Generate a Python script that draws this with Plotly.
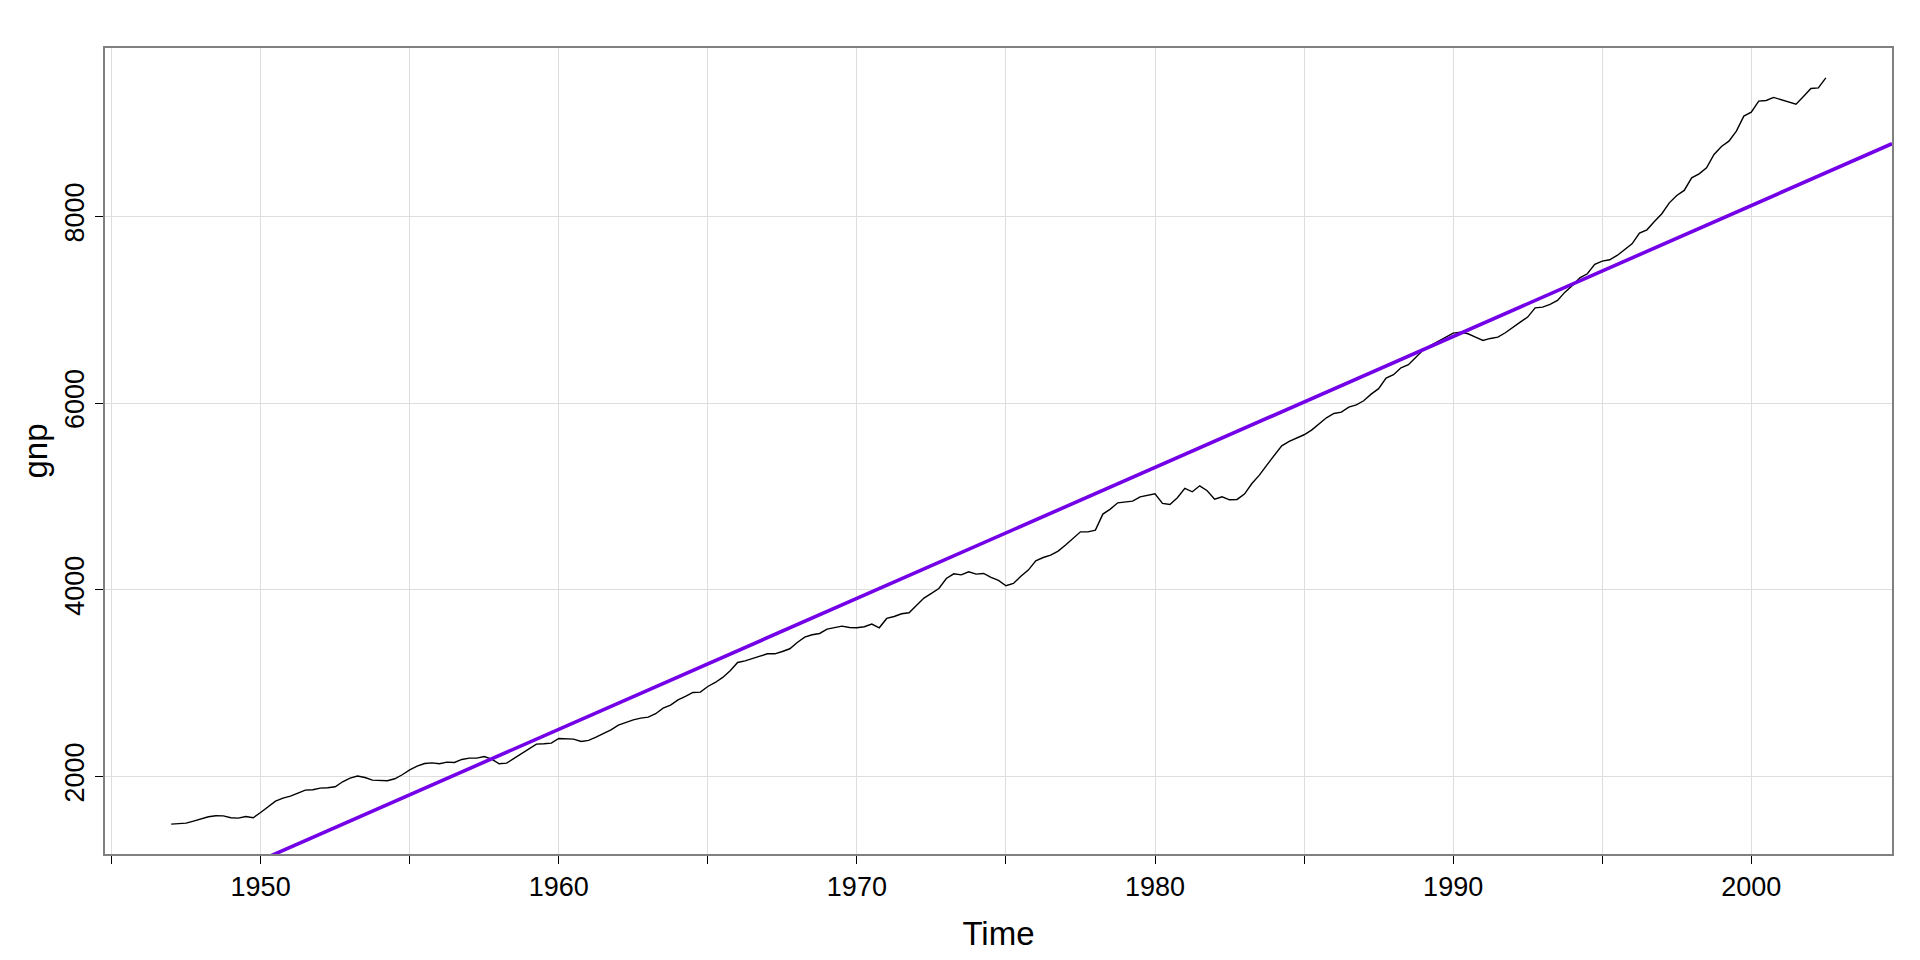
import numpy as np
import plotly.graph_objects as go

# Quarterly GNP, 1947 Q1 .. 2002 Q3
start_year = 1947
gnp = [
    1489, 1496, 1500, 1522,   # 1947
    1543, 1568, 1579, 1578,   # 1948
    1557, 1554, 1571, 1557,   # 1949
    1614, 1671, 1736, 1768,   # 1950
    1789, 1821, 1854, 1857,   # 1951
    1875, 1879, 1889, 1943,   # 1952
    1982, 2004, 1989, 1961,   # 1953
    1954, 1954, 1975, 2018,   # 1954
    2071, 2111, 2139, 2146,   # 1955
    2136, 2154, 2150, 2182,   # 1956
    2196, 2196, 2214, 2186,   # 1957
    2136, 2143, 2193, 2246,   # 1958
    2296, 2346, 2350, 2357,   # 1959
    2407, 2400, 2400, 2375,   # 1960
    2386, 2422, 2457, 2500,   # 1961
    2550, 2582, 2607, 2625,   # 1962
    2636, 2672, 2732, 2764,   # 1963
    2821, 2857, 2900, 2904,   # 1964
    2964, 3007, 3061, 3132,   # 1965
    3221, 3239, 3261, 3289,   # 1966
    3314, 3314, 3339, 3368,   # 1967
    3436, 3493, 3518, 3532,   # 1968
    3579, 3593, 3611, 3596,   # 1969
    3593, 3604, 3632, 3593,   # 1970
    3693, 3714, 3743, 3754,   # 1971
    3829, 3911, 3961, 4014,   # 1972
    4121, 4171, 4160, 4193,   # 1973
    4168, 4175, 4132, 4100,   # 1974
    4043, 4068, 4146, 4211,   # 1975
    4311, 4346, 4371, 4414,   # 1976
    4479, 4550, 4621, 4621,   # 1977
    4639, 4811, 4864, 4932,   # 1978
    4943, 4950, 4996, 5014,   # 1979
    5028, 4925, 4914, 4986,   # 1980
    5086, 5050, 5114, 5061,   # 1981
    4971, 4996, 4964, 4968,   # 1982
    5025, 5139, 5228, 5336,   # 1983
    5443, 5543, 5589, 5621,   # 1984
    5661, 5711, 5782, 5843,   # 1985
    5889, 5904, 5957, 5982,   # 1986
    6025, 6096, 6155, 6268,   # 1987
    6304, 6379, 6411, 6493,   # 1988
    6572, 6618, 6661, 6707,   # 1989
    6750, 6761, 6743, 6707,   # 1990
    6672, 6693, 6707, 6754,   # 1991
    6814, 6868, 6922, 7021,   # 1992
    7028, 7057, 7100, 7189,   # 1993
    7261, 7343, 7386, 7486,   # 1994
    7521, 7536, 7582, 7646,   # 1995
    7707, 7821, 7857, 7946,   # 1996
    8029, 8146, 8225, 8279,   # 1997
    8414, 8457, 8521, 8664,   # 1998
    8750, 8807, 8914, 9075,   # 1999
    9118, 9236, 9243, 9275,   # 2000
    9250, 9228, 9203, 9286,   # 2001
    9371, 9378, 9485,         # 2002
]
time = [start_year + i / 4 for i in range(len(gnp))]

x_tick_vals = list(range(1945, 2001, 5))
x_tick_text = [str(v) if v % 10 == 0 else "" for v in x_tick_vals]
y_tick_vals = [2000, 4000, 6000, 8000]
y_tick_text = ["2000", "4000", "6000", "8000"]

# axis ranges with 4% padding (R style)
t_arr = np.array(time)
g_arr = np.array(gnp, dtype=float)
xpad = 0.04 * (t_arr.max() - t_arr.min())
ypad = 0.04 * (g_arr.max() - g_arr.min())
xr = [t_arr.min() - xpad, t_arr.max() + xpad]
yr = [g_arr.min() - ypad, g_arr.max() + ypad]

# linear trend fit gnp ~ time
slope, intercept = np.polyfit(t_arr, g_arr, 1)
fit_x = [xr[0], xr[1]]
fit_y = [intercept + slope * v for v in fit_x]

FONT = "Liberation Sans, Arial, Helvetica, sans-serif"

fig = go.Figure()
fig.add_trace(go.Scatter(x=time, y=gnp, mode="lines",
                         line=dict(color="black", width=1.4),
                         showlegend=False, hoverinfo="x+y"))
fig.add_trace(go.Scatter(x=fit_x, y=fit_y, mode="lines",
                         line=dict(color="#7300E6", width=3.6),
                         showlegend=False, cliponaxis=True))

# page body has an 8px default margin: size the figure to fit inside it
fig.update_layout(
    width=1904, height=944,
    paper_bgcolor="white", plot_bgcolor="white",
    margin=dict(l=97, r=20, t=40, b=98, pad=0, autoexpand=False),
    font=dict(family=FONT, size=27, color="black"),
    showlegend=False,
)
fig.update_xaxes(
    range=xr, tickvals=x_tick_vals, ticktext=x_tick_text,
    showgrid=True, gridcolor="#DEDEDE", gridwidth=1.3,
    zeroline=False, automargin=False,
    showline=True, linecolor="#808080", linewidth=1.6, mirror=True,
    ticks="outside", ticklen=8, tickwidth=1.3, tickcolor="black",
    ticklabelstandoff=0,
    tickfont=dict(size=27, color="black", family=FONT),
    title=dict(text="Time", font=dict(size=33, color="black", family=FONT), standoff=25),
)
fig.update_yaxes(
    range=yr, tickvals=y_tick_vals, ticktext=y_tick_text,
    showgrid=True, gridcolor="#DEDEDE", gridwidth=1.3,
    zeroline=False, automargin=False,
    showline=True, linecolor="#808080", linewidth=1.6, mirror=True,
    ticks="outside", ticklen=8, tickwidth=1.3, tickcolor="black",
    tickangle=-90,
    tickfont=dict(size=27, color="black", family=FONT),
    title=dict(text="gnp", font=dict(size=33, color="black", family=FONT), standoff=3),
)

fig.write_html("out.html")
